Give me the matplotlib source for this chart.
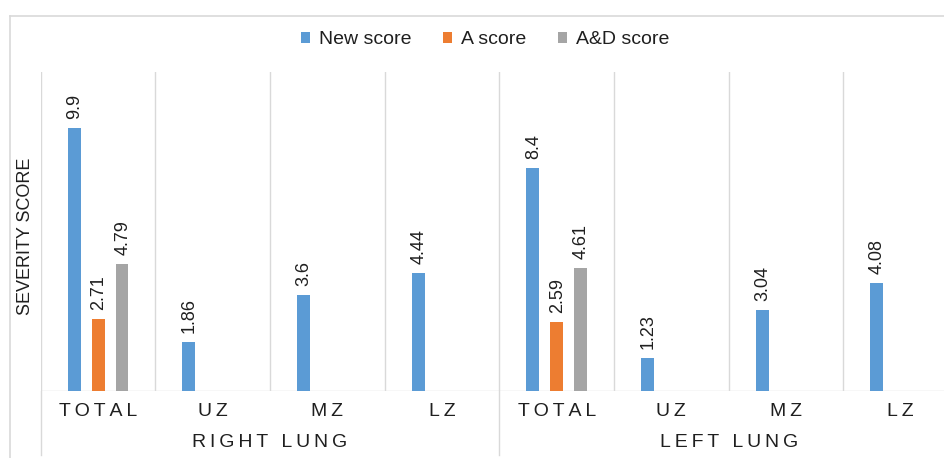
import matplotlib
matplotlib.use("Agg")
import matplotlib.pyplot as plt
from matplotlib.lines import Line2D
from matplotlib.patches import Patch
import matplotlib.transforms as mtransforms
import numpy as np

plt.rcParams['font.family'] = ['Liberation Sans', 'DejaVu Sans']

# Data
zones = ["TOTAL", "UZ", "MZ", "LZ", "TOTAL", "UZ", "MZ", "LZ"]
groups = ["RIGHT LUNG", "LEFT LUNG"]
new_score = [9.9, 1.86, 3.6, 4.44, 8.4, 1.23, 3.04, 4.08]
a_score = [2.71, None, None, None, 2.59, None, None, None]
ad_score = [4.79, None, None, None, 4.61, None, None, None]
series_names = ["New score", "A score", "A&D score"]
colors = ["#5B9BD5", "#ED7D31", "#A5A5A5"]
grid_color = "#D9D9D9"
text_color = "#1F1F1F"

W, H = 944, 458
fig = plt.figure(figsize=(W / 100, H / 100), dpi=100)
left_px, right_px, top_px, base_px = 40.7, 958.0, 72.0, 391.0
ax = fig.add_axes([left_px / W, 1 - base_px / H,
                   (right_px - left_px) / W, (base_px - top_px) / H])

n = len(zones)
x = np.arange(n)
bar_w = 0.113
offset = 0.209

all_series = [new_score, a_score, ad_score]
for k, (vals, col) in enumerate(zip(all_series, colors)):
    xs = [xi + (k - 1) * offset for xi, v in zip(x, vals) if v is not None]
    vs = [v for v in vals if v is not None]
    ax.bar(xs, vs, width=bar_w, color=col, zorder=3)
    for xi, v in zip(xs, vs):
        ax.annotate(f"{v:g}", xy=(xi, v), xytext=(0.5, 6.5),
                    textcoords="offset points", rotation=90,
                    ha="center", va="bottom", fontsize=13, color=text_color)

ax.set_xlim(-0.5, n - 0.5)
ax.set_ylim(0, 12)
for s in ax.spines.values():
    s.set_visible(False)
ax.set_yticks([])
ax.set_xticks([])

# Category separators and baseline
for b in np.arange(n) - 0.5:
    ax.axvline(b, color=grid_color, lw=1.0, zorder=1)
ax.axhline(0, color=grid_color, lw=1.0, zorder=2)

# Group dividers extending below the axis
trans = mtransforms.blended_transform_factory(ax.transData, ax.transAxes)
for b in [-0.5, 3.5, 7.5]:
    ax.add_line(Line2D([b, b], [0, -0.2], transform=trans, color=grid_color,
                       lw=1.0, clip_on=False))

THIN = "\u2009"


def spaced(s):
    # letter-spaced caps: thin space between letters, wider gap between words
    words = s.split(" ")
    return (THIN + " " + THIN).join(THIN.join(w) for w in words)


for xi, z in zip(x, zones):
    ax.annotate(spaced(z), xy=(xi, 0), xycoords=trans, xytext=(0, -15.1),
                textcoords="offset points", ha="center", va="center",
                fontsize=14, color=text_color)
for gi, g in enumerate(groups):
    ax.annotate(spaced(g), xy=(gi * 4 + 1.5, 0), xycoords=trans,
                xytext=(0, -37.4), textcoords="offset points",
                ha="center", va="center", fontsize=14, color=text_color)

fig.text(26 / W, 1 - 236 / H, "SEVERITY SCORE", rotation=90, ha="center",
         va="center", fontsize=13, color=text_color)

# Outer chart frame
fig.add_artist(Line2D([10 / W, 10 / W], [1 - 15.6 / H, 0],
                      transform=fig.transFigure, color=grid_color, lw=1.2))
fig.add_artist(Line2D([10 / W, 1], [1 - 15.6 / H, 1 - 15.6 / H],
                      transform=fig.transFigure, color=grid_color, lw=1.2))

handles = [Patch(facecolor=c, edgecolor="none") for c in colors]
fig.legend(handles, series_names, loc="center", ncol=3,
           bbox_to_anchor=(485 / W, 1 - 40 / H), frameon=False,
           fontsize=14, handlelength=0.5, handleheight=0.5,
           handletextpad=0.45, columnspacing=1.6, borderpad=0,
           labelcolor=text_color)

fig.savefig("out.png", dpi=100, facecolor="white")
